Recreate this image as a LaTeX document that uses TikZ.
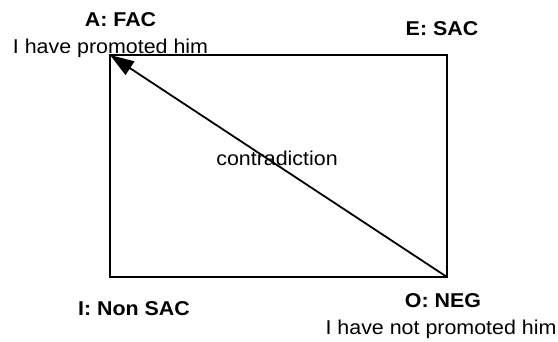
\documentclass[tikz,border=0pt]{standalone}
\usepackage{fontspec}
\setmainfont[FakeStretch=1.07]{Liberation Sans}
\usetikzlibrary{arrows.meta}

\begin{document}
\begin{tikzpicture}[
    x=1pt,
    y=-1pt,
    line cap=butt,
    every node/.style={font=\fontsize{20}{24}\selectfont, inner sep=0pt, anchor=base},
    corner/.style={font=\fontsize{20}{24}\selectfont\bfseries}
]

% Canvas
\useasboundingbox (0,0) rectangle (558,341);

% Corners of the square
\coordinate (A) at (110,55);
\coordinate (E) at (447,55);
\coordinate (I) at (110,277);
\coordinate (O) at (447,277);

% Border
\draw[line width=1.6pt] (A) rectangle (O);

% Contradiction diagonal
\draw[line width=1.8pt,-{Triangle[length=24pt,width=16pt]}] (O) -- (A);
\node (contra) at (277,165) {contradiction};

% Corner labels
\node[corner] (Alabel) at (120.5,26) {A: FAC};
\node (Atext) at (110.5,53) {I have promoted him};
\node[corner] (Elabel) at (442,35) {E: SAC};
\node[corner] (Ilabel) at (134,315) {I: Non SAC};
\node[corner] (Olabel) at (443,307) {O: NEG};
\node (Otext) at (441,334) {I have not promoted him};

\end{tikzpicture}
\end{document}
